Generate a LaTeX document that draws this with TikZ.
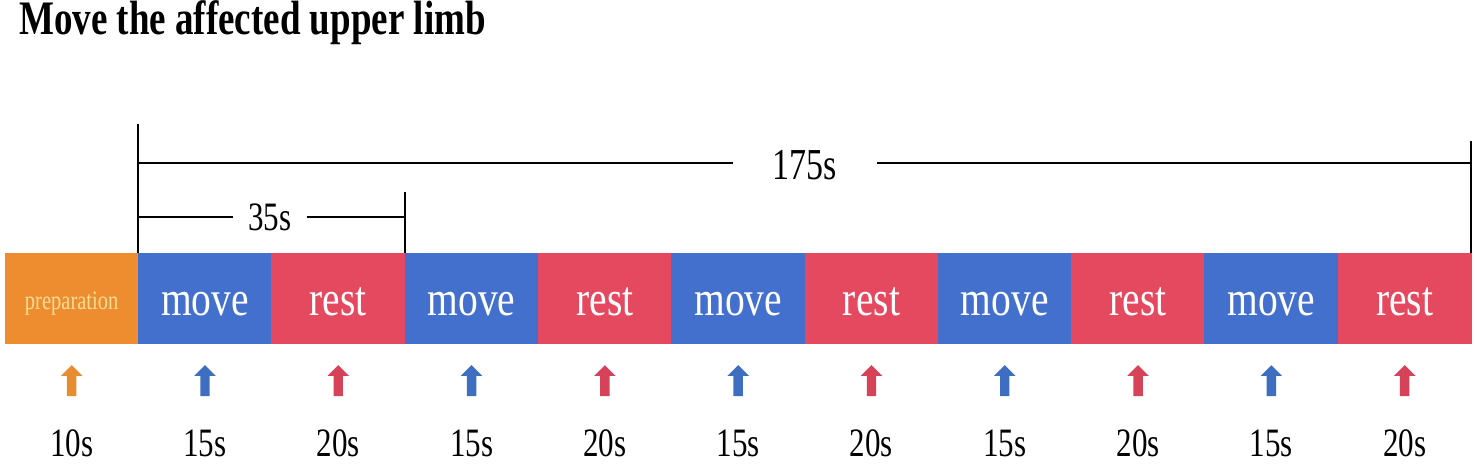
\documentclass[tikz,border=0pt]{standalone}
\usepackage{fontspec}
\setmainfont{Liberation Serif}
\usetikzlibrary{shapes.arrows}
\definecolor{prepC}{RGB}{238,141,48}
\definecolor{moveC}{RGB}{67,112,204}
\definecolor{restC}{RGB}{229,73,95}
\definecolor{prepT}{RGB}{246,222,150}
\definecolor{arrO}{RGB}{232,140,50}
\definecolor{arrB}{RGB}{62,110,192}
\definecolor{arrR}{RGB}{214,66,88}
\newcommand{\tallt}[1]{\scalebox{1}[1.3]{#1}}
\tikzset{
  seg/.style={anchor=west, minimum width=133.3bp, minimum height=90bp, inner sep=0pt, outer sep=0pt,
    text=white, text height=34bp, text depth=0pt, font=\fontsize{39.5bp}{40bp}\selectfont},
  prepbox/.style={seg, fill=prepC, draw=prepC, line width=0.6bp, text=prepT, text height=22bp,
    font=\fontsize{20.5bp}{22bp}\selectfont},
  movebox/.style={seg, fill=moveC, draw=moveC, line width=0.6bp},
  restbox/.style={seg, fill=restC, draw=restC, line width=0.6bp},
  uparrow/.style={single arrow, rotate=90, inner sep=4.5bp, single arrow head extend=6bp,
    minimum height=31bp, draw=none},
  dur/.style={font=\fontsize{31bp}{34bp}\selectfont},
  dim/.style={line width=2bp, black},
}
\begin{document}
\begin{tikzpicture}[x=1bp,y=-1bp]
\useasboundingbox (0,0) rectangle (1477,473);
\node[anchor=base west, inner sep=0pt, font=\fontsize{37bp}{40bp}\selectfont\bfseries] (title) at (19,35) {\tallt{Move the affected upper limb}};
% segments
\node[prepbox] (s0) at (5,298) {\tallt{preparation}};
\foreach \i [evaluate=\i as \p using int(\i-1)] in {1,...,10}{
  \pgfmathparse{isodd(\i)}
  \ifnum\pgfmathresult=1
    \node[movebox] (s\i) at (s\p.east) {\scalebox{1}[1.25]{move}};
  \else
    \node[restbox] (s\i) at (s\p.east) {\scalebox{1}[1.25]{rest}};
  \fi
}
% arrows and durations
\node[uparrow, fill=arrO] (a0) at (s0.center |- 0,383) {};
\node[dur] (d0) at (s0.center |- 0,443) {\tallt{10s}};
\foreach \i in {1,...,10}{
  \pgfmathparse{isodd(\i)}
  \ifnum\pgfmathresult=1
    \node[uparrow, fill=arrB] (a\i) at (s\i.center |- 0,383) {};
    \node[dur] (d\i) at (s\i.center |- 0,443) {\tallt{15s}};
  \else
    \node[uparrow, fill=arrR] (a\i) at (s\i.center |- 0,383) {};
    \node[dur] (d\i) at (s\i.center |- 0,443) {\tallt{20s}};
  \fi
}
% 175s bracket
\coordinate (lt) at (s1.north west |- 0,124);
\coordinate (rt) at (s10.north east |- 0,141);
\draw[dim] (s1.north west) -- (lt);
\draw[dim] (s10.north east) -- (rt);
\coordinate (tl) at (s1.north west |- 0,163);
\coordinate (tr) at (s10.north east |- 0,163);
\node[dur, font=\fontsize{34bp}{36bp}\selectfont, inner xsep=40bp, inner ysep=0pt] (t175) at (805,165) {\tallt{175s}};
\draw[dim] (tl) -- (t175.west |- tl);
\draw[dim] (t175.east |- tr) -- (tr);
% 35s bracket
\coordinate (mt) at (s2.north east |- 0,192);
\draw[dim] (s2.north east) -- (mt);
\coordinate (ml) at (s1.north west |- 0,217);
\coordinate (mr) at (s2.north east |- 0,217);
\node[dur, inner xsep=15bp, inner ysep=0pt] (t35) at (270,217) {\tallt{35s}};
\draw[dim] (ml) -- (t35.west |- ml);
\draw[dim] (t35.east |- mr) -- (mr);
\end{tikzpicture}
\end{document}
